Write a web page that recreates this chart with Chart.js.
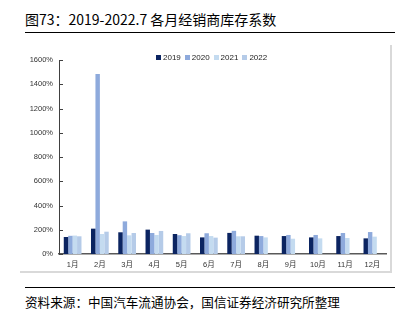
<!DOCTYPE html>
<html>
<head>
<meta charset="utf-8">
<script src="https://cdn.jsdelivr.net/npm/chart.js@4"></script>
<style>
    body { margin: 0; background: #fff; }
    #page { position: relative; width: 414px; height: 322px; overflow: hidden; font-family: "Noto Sans CJK SC", sans-serif; }
    #title { position: absolute; left: 25px; top: 10px; font-size: 14px; color: #000; white-space: nowrap; line-height: 18px; }
    .rule { position: absolute; left: 25px; width: 370px; height: 0; border-top: 1px solid #000; }
    #frame { position: absolute; left: 20px; top: 45px; width: 370px; height: 226px; border-right: 2px solid #d9d9d9; border-bottom: 2px solid #d9d9d9; }
    #chartBox { position: absolute; left: 20px; top: 45px; width: 372px; height: 230px; }
    #legend { position: absolute; left: 156px; top: 53px; font: 8px "Liberation Sans", Arial, sans-serif; color: #222; white-space: nowrap; line-height: 10px; }
    #legend span.item { display: inline-block; margin-right: 4px; }
    #legend span.box { display: inline-block; width: 5px; height: 5px; margin-right: 2px; vertical-align: 0px; }
    #source { position: absolute; left: 25px; top: 293px; font-size: 12.6px; color: #000; white-space: nowrap; line-height: 18px; }
</style>
</head>
<body>
<div id="page">
    <div id="title">图73：2019-2022.7 各月经销商库存系数</div>
    <div class="rule" style="top: 32px;"></div>
    <div id="frame"></div>
    <div id="chartBox"><canvas id="barChart"></canvas></div>
    <div id="legend"></div>
    <div class="rule" style="top: 287px;"></div>
    <div id="source">资料来源：中国汽车流通协会，国信证券经济研究所整理</div>
</div>
<script>
const months = ['1月', '2月', '3月', '4月', '5月', '6月', '7月', '8月', '9月', '10月', '11月', '12月'];
const years = ['2019', '2020', '2021', '2022'];
const colors = ['#0b2461', '#8eaadc', '#c4dbf0', '#b5cbe8'];

// 经销商库存系数 (%)
const data2019 = [140, 209, 179, 201, 165, 137, 174, 151, 148, 137, 148, 129];
const data2020 = [150, 1485, 269, 173, 155, 171, 191, 148, 157, 157, 173, 181];
const data2021 = [152, 165, 154, 157, 148, 148, 146, 137, 126, 129, 132, 143];
const data2022 = [146, 184, 173, 190, 171, 135, 146, null, null, null, null, null];

const yTicks = { min: 0, max: 1600, step: 200 };

const series = [data2019, data2020, data2021, data2022];

// y axis tick marks point into the plot
const innerTicks = {
    id: 'innerTicks',
    afterDraw(chart) {
        const ctx = chart.ctx;
        const y = chart.scales.y;
        ctx.save();
        ctx.strokeStyle = '#404040';
        ctx.lineWidth = 1;
        ctx.beginPath();
        y.ticks.forEach(t => {
            const py = Math.round(y.getPixelForValue(t.value)) + 0.5;
            ctx.moveTo(y.right, py);
            ctx.lineTo(y.right + 4, py);
        });
        ctx.stroke();
        ctx.restore();
    }
};

const chart = new Chart(document.getElementById('barChart'), {
    type: 'bar',
    data: {
        labels: months,
        datasets: years.map((year, i) => ({
            label: year,
            data: series[i],
            backgroundColor: colors[i],
            borderWidth: 0,
            categoryPercentage: 0.65,
            barPercentage: 1.0
        }))
    },
    options: {
        responsive: true,
        maintainAspectRatio: false,
        animation: false,
        layout: { padding: { left: 0, right: 6, top: 15, bottom: 5 } },
        plugins: {
            legend: { display: false },
            tooltip: { enabled: false }
        },
        scales: {
            x: {
                grid: { display: false, drawTicks: false },
                border: { display: true, color: '#595959', width: 1.5 },
                ticks: {
                    padding: 6,
                    color: '#333',
                    font: { family: '"Liberation Sans", "Noto Sans CJK SC", sans-serif', size: 7.5 }
                },
                afterFit: s => { s.height = 16; }
            },
            y: {
                min: yTicks.min,
                max: yTicks.max,
                grid: { display: false, drawTicks: false },
                border: { display: true, color: '#404040', width: 1 },
                ticks: {
                    stepSize: yTicks.step,
                    padding: 6,
                    color: '#333',
                    font: { family: '"Liberation Sans", Arial, sans-serif', size: 7.5 },
                    callback: v => v + '%'
                },
                afterFit: s => { s.width = 39; }
            }
        }
    },
    plugins: [innerTicks]
});

// legend built from the chart's own datasets
const legend = document.getElementById('legend');
chart.data.datasets.forEach(ds => {
    const item = document.createElement('span');
    item.className = 'item';
    item.innerHTML = `<span class="box" style="background:${ds.backgroundColor}"></span>${ds.label}`;
    legend.appendChild(item);
});
</script>
</body>
</html>
